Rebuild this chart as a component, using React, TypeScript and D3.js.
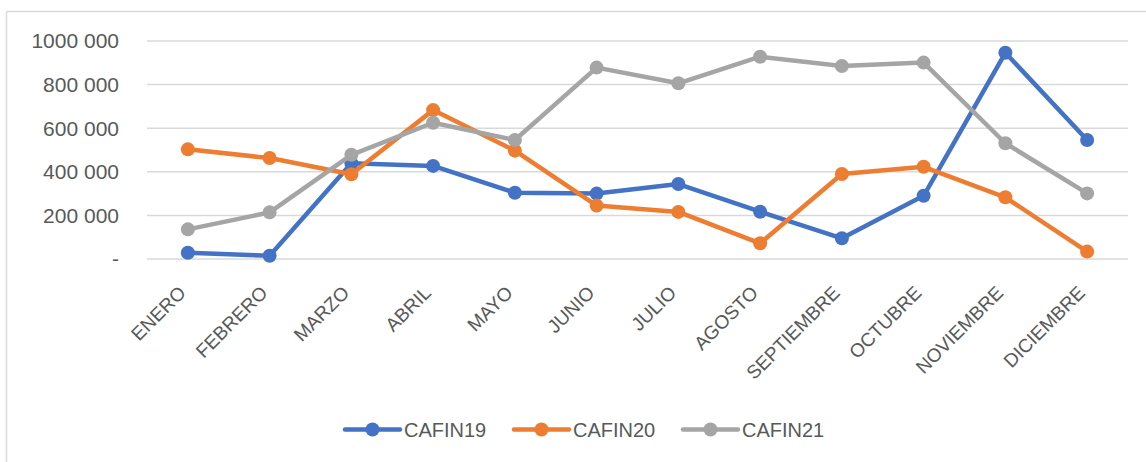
import React from "react";
import * as d3 from "d3";

const months = ["ENERO", "FEBRERO", "MARZO", "ABRIL", "MAYO", "JUNIO", "JULIO", "AGOSTO", "SEPTIEMBRE", "OCTUBRE", "NOVIEMBRE", "DICIEMBRE"];
const cafin19 = [29000, 15000, 439000, 427000, 304000, 300000, 344000, 217000, 95000, 290000, 946000, 546000];
const cafin20 = [503000, 463000, 389000, 683000, 497000, 245000, 216000, 72000, 390000, 423000, 283000, 34000];
const cafin21 = [136000, 214000, 478000, 625000, 546000, 878000, 806000, 928000, 885000, 901000, 531000, 301000];
const yTicks = [0, 200000, 400000, 600000, 800000, 1000000];
const seriesNames = ["CAFIN19", "CAFIN20", "CAFIN21"];
const colors = ["#4472C4", "#ED7D31", "#A5A5A5"];

const W = 1146;
const H = 462;
const plotLeft = 147;
const plotRight = 1128;
const yTop = 41;
const yBottom = 259;

const fmt = (v: number) => {
  if (v === 0) return "-";
  const s = String(v);
  const parts: string[] = [];
  let rest = s;
  while (rest.length > 3) {
    parts.unshift(rest.slice(-3));
    rest = rest.slice(0, -3);
  }
  parts.unshift(rest);
  if (parts.length === 3) return parts[0] + parts[1] + " " + parts[2];
  return parts.join(" ");
};

export default function App() {
  const x = d3.scaleBand<string>().domain(months).range([plotLeft, plotRight]);
  const cx = (m: string) => (x(m) as number) + x.bandwidth() / 2;
  const y = d3.scaleLinear().domain([0, 1000000]).range([yBottom, yTop]);
  const line = d3
    .line<number>()
    .x((_, i) => cx(months[i]))
    .y((d) => y(d));
  const data = [cafin19, cafin20, cafin21];
  const font = "'Liberation Sans', Arial, sans-serif";
  const legendX = [345, 514, 683];

  return (
    <svg width={W} height={H} style={{ position: "absolute", left: 0, top: 0 }}>
      <rect x={0} y={0} width={W} height={H} fill="#fff" />
      <line x1={6.5} x2={W} y1={11.5} y2={11.5} stroke="#D9D9D9" strokeWidth={1.5} />
      <line x1={6.5} x2={6.5} y1={11.5} y2={H} stroke="#D9D9D9" strokeWidth={1.5} />
      {yTicks.map((t) => (
        <g key={t}>
          <line x1={plotLeft} x2={plotRight} y1={y(t)} y2={y(t)} stroke="#D9D9D9" strokeWidth={1.5} />
          <text
            x={119}
            y={y(t)}
            dy="0.35em"
            textAnchor="end"
            fontFamily={font}
            fontSize={21}
            fill="#595959"
          >
            {fmt(t)}
          </text>
        </g>
      ))}
      {months.map((m) => (
        <text
          key={m}
          transform={`translate(${cx(m) - 1},${294}) rotate(-45)`}
          textAnchor="end"
          fontFamily={font}
          fontSize={19}
          fill="#595959"
        >
          {m}
        </text>
      ))}
      {data.map((d, si) => (
        <g key={si}>
          <path d={line(d) as string} fill="none" stroke={colors[si]} strokeWidth={4.5} strokeLinejoin="round" />
          {d.map((v, i) => (
            <circle key={i} cx={cx(months[i])} cy={y(v)} r={7} fill={colors[si]} />
          ))}
        </g>
      ))}
      {seriesNames.map((n, i) => (
        <g key={n}>
          <line x1={legendX[i]} x2={legendX[i] + 55} y1={429.5} y2={429.5} stroke={colors[i]} strokeWidth={4.5} strokeLinecap="round" />
          <circle cx={legendX[i] + 27.5} cy={429.5} r={7} fill={colors[i]} />
          <text x={legendX[i] + 59} y={429.5} dy="0.35em" fontFamily={font} fontSize={20} fill="#595959">
            {n}
          </text>
        </g>
      ))}
    </svg>
  );
}
